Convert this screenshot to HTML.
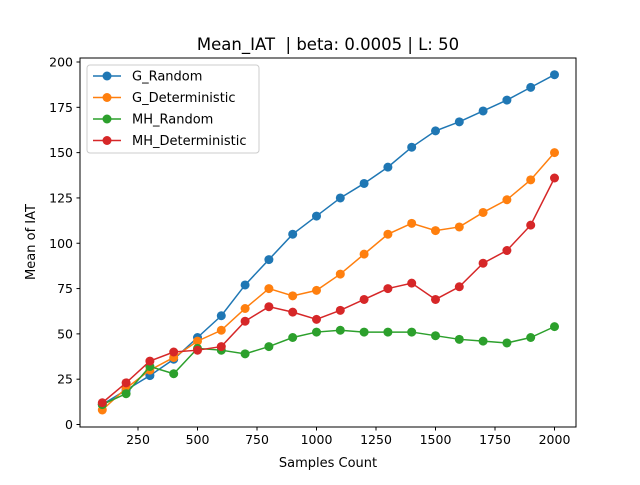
<!DOCTYPE html>
<html><head><meta charset="utf-8"><style>
body{margin:0;background:#fff}
svg{font-family:"DejaVu Sans","Liberation Sans",sans-serif}
</style></head><body>
<svg id="chart" width="640" height="480" xmlns="http://www.w3.org/2000/svg">
<rect width="640" height="480" fill="#fff"/>
<text x="328" y="50" text-anchor="middle" font-size="16.5" style="white-space:pre">Mean_IAT  | beta: 0.0005 | L: 50</text>
<g id="grid"></g>
<g id="series"></g>
<rect x="80" y="58" width="496" height="369" fill="none" stroke="#000" stroke-width="1"/>
<text x="328" y="467" text-anchor="middle" font-size="13">Samples Count</text>
<text transform="translate(35,242) rotate(-90)" text-anchor="middle" font-size="13">Mean of IAT</text>
<g id="legend"></g>
</svg>
<script>
const xs=[100,200,300,400,500,600,700,800,900,1000,1100,1200,1300,1400,1500,1600,1700,1800,1900,2000];
const gRandom=[11,19,27,36,48,60,77,91,105,115,125,133,142,153,162,167,173,179,186,193];
const gDet=[8,20,30,37,46,52,64,75,71,74,83,94,105,111,107,109,117,124,135,150];
const mhRandom=[11,17,32,28,42,41,39,43,48,51,52,51,51,51,49,47,46,45,48,54];
const mhDet=[12,23,35,40,41,43,57,65,62,58,63,69,75,78,69,76,89,96,110,136];
const seriesNames=["G_Random","G_Deterministic","MH_Random","MH_Deterministic"];
const colors=["#1f77b4","#ff7f0e","#2ca02c","#d62728"];
const xTicks=[250,500,750,1000,1250,1500,1750,2000];
const yTicks=[0,25,50,75,100,125,150,175,200];
const X=v=>78.5+(v/500)*119;
const Y=v=>424.5-v*1.8125;
const NS="http://www.w3.org/2000/svg";
const grid=document.getElementById('grid');
function mk(tag,attrs,parent){const e=document.createElementNS(NS,tag);for(const k in attrs)e.setAttribute(k,attrs[k]);parent.appendChild(e);return e;}
xTicks.forEach(t=>{
 const l=mk('line',{x1:X(t),x2:X(t),y1:427,y2:430.5,stroke:'#000'},grid);
 
 
 const tx=mk('text',{x:X(t),y:444,'text-anchor':'middle','font-size':12.5},grid);
 tx.textContent=t;
 
 
});
yTicks.forEach(t=>{
 const l=mk('line',{x1:76.5,x2:80,y1:Y(t),y2:Y(t),stroke:'#000'},grid);
 
 
 const tx=mk('text',{x:73,y:Y(t)+4.5,'text-anchor':'end','font-size':12.5},grid);
 tx.textContent=t;
 
 
});
const sg=document.getElementById('series');
[gRandom,gDet,mhRandom,mhDet].forEach((d,i)=>{
 const g=mk('g',{},sg);
 
 
 const p=mk('polyline',{points:d.map((v,j)=>X(xs[j])+','+Y(v)).join(' '),fill:'none',stroke:colors[i],'stroke-width':1.5},g);
 
 
 d.forEach((v,j)=>{
  const c=mk('circle',{cx:X(xs[j]),cy:Y(v),r:4.5,fill:colors[i]},g);
  
  
 });
});
const lg=document.getElementById('legend');
const box=mk('rect',{x:87,y:65,width:172,height:88,rx:3,fill:'#fff','fill-opacity':0.8,stroke:'#ccc'},lg);


seriesNames.forEach((n,i)=>{
 const y=76+i*21.5;
 const g=mk('g',{},lg);
 
 
 mk('line',{x1:93,x2:121,y1:y,y2:y,stroke:colors[i],'stroke-width':1.5},g);
 mk('circle',{cx:107,cy:y,r:4.5,fill:colors[i]},g);
 const t=mk('text',{x:132,y:y+4.5,'font-size':13},g);
 t.textContent=n;
});
</script>
</body></html>
